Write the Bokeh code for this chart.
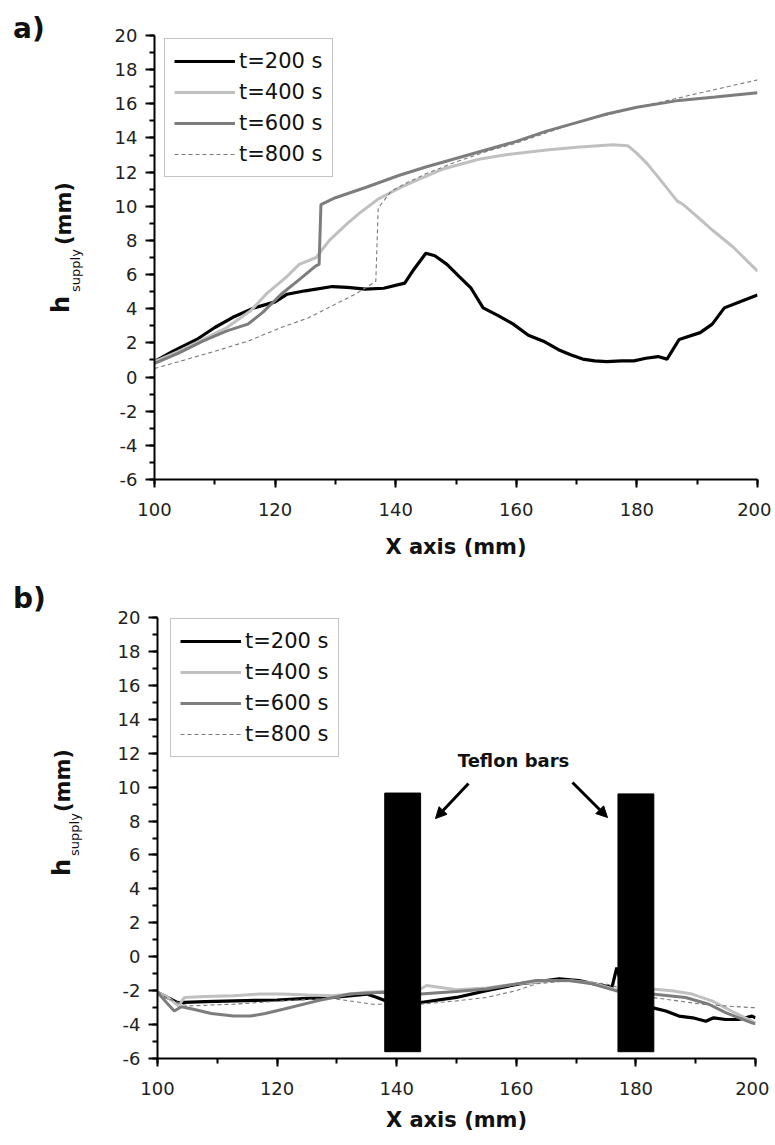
import math
from bokeh.plotting import figure
from bokeh.layouts import column, row
from bokeh.models import (Label, Arrow, NormalHead, SingleIntervalTicker, Legend, Div,
                          PrintfTickFormatter)
from bokeh.embed import file_html
from bokeh.resources import INLINE

# ---------------- data: panel a ----------------
a200_x = [100, 103, 107, 110, 113, 116.5, 120, 122, 125, 129.5, 132, 135, 138, 141.5, 143, 145,
          146.5, 148.5, 150.5, 152.5, 154.5, 157, 159.5, 162, 164.5, 167, 169, 171, 173, 175,
          177.5, 179.5, 181.5, 183.5, 185, 187, 190.5, 192.5, 194.5, 197, 200]
a200_y = [0.9, 1.5, 2.2, 2.9, 3.5, 4.05, 4.4, 4.85, 5.05, 5.3, 5.25, 5.15, 5.2, 5.5, 6.3, 7.25,
          7.1, 6.6, 5.9, 5.2, 4.05, 3.6, 3.1, 2.45, 2.1, 1.6, 1.3, 1.05, 0.95, 0.9,
          0.95, 0.95, 1.1, 1.2, 1.05, 2.2, 2.6, 3.1, 4.05, 4.4, 4.8]

a400_x = [100, 104, 108, 112, 116, 118.5, 122, 124, 126.8, 129, 132, 134, 137, 140.8, 144, 148,
          153.8, 158, 165, 170, 176, 178.5, 180, 181.7, 184, 186.7, 187.7, 190, 192.7, 196, 200]
a400_y = [0.9, 1.5, 2.2, 2.9, 3.9, 4.85, 5.9, 6.6, 7.0, 8.0, 9.0, 9.6, 10.4, 11.1, 11.6, 12.2,
          12.75, 13.0, 13.3, 13.45, 13.6, 13.55, 13.1, 12.5, 11.5, 10.3, 10.1, 9.4, 8.55, 7.6, 6.2]

a600_x = [100, 104, 108, 112, 115.5, 118, 121, 124, 126.7, 127.3, 127.6, 130, 135, 140.5, 145,
          152, 160, 165, 170, 175, 180, 187, 193, 200]
a600_y = [0.8, 1.4, 2.1, 2.7, 3.1, 3.8, 4.85, 5.7, 6.5, 6.6, 10.1, 10.5, 11.1, 11.8, 12.3,
          13.0, 13.8, 14.4, 14.9, 15.4, 15.8, 16.2, 16.4, 16.65]

a800_x = [100, 105, 109.9, 115.5, 121, 125.5, 130, 133.3, 136.7, 137.1, 139.3, 142, 145, 150,
          155, 160, 170, 180, 184, 190, 195, 200]
a800_y = [0.5, 1.0, 1.5, 2.1, 2.9, 3.46, 4.27, 4.85, 5.6, 9.9, 10.9, 11.4, 11.9, 12.6,
          13.2, 13.7, 14.9, 15.8, 16.1, 16.6, 17.0, 17.4]

# ---------------- data: panel b ----------------
b200_x = [100, 103.3, 108, 113, 120, 125, 129.4, 135, 136.7, 138.9, 144, 150, 155, 160.5, 164,
          167.2, 170.5, 173, 176, 176.8, 177.5, 182.7, 185, 187.2, 189.5, 191.7, 193, 195, 197.2,
          199.4, 200]
b200_y = [-2.1, -2.7, -2.65, -2.6, -2.55, -2.45, -2.4, -2.2, -2.4, -2.7, -2.7, -2.4, -2.0, -1.6,
          -1.45, -1.3, -1.4, -1.6, -1.8, -0.65, -1.5, -3.0, -3.2, -3.5, -3.6, -3.8, -3.6, -3.7,
          -3.7, -3.5, -3.6]

b400_x = [100, 101.7, 103.5, 104.5, 108, 112.7, 117, 121, 125, 129.4, 135, 138, 144, 145, 150,
          155, 160, 165, 168.8, 172.7, 176.6, 182.7, 186, 189.4, 192.7, 196, 199.4, 200]
b400_y = [-2.1, -2.4, -2.9, -2.4, -2.35, -2.3, -2.2, -2.2, -2.25, -2.3, -2.1, -2.05, -1.9, -1.7,
          -1.95, -1.85, -1.6, -1.45, -1.4, -1.55, -1.95, -1.9, -2.0, -2.2, -2.6, -3.2, -3.8, -3.9]

b600_x = [100, 101.5, 102.8, 104, 106, 109, 112.7, 115.5, 118, 121, 126.7, 132.2, 137.8, 144,
          150, 155, 160, 163.3, 168.8, 172.7, 176.6, 182.7, 188.3, 192.2, 195, 199.4, 200]
b600_y = [-2.1, -2.7, -3.2, -2.95, -3.1, -3.35, -3.5, -3.5, -3.35, -3.1, -2.6, -2.2, -2.1, -2.2,
          -2.05, -1.9, -1.6, -1.4, -1.4, -1.6, -2.0, -2.2, -2.4, -2.8, -3.3, -3.9, -3.95]

b800_x = [100, 102, 105, 112.7, 121, 129, 136, 138, 144, 150, 155, 160, 163.3, 168.8, 175,
          182.7, 187, 191, 195, 199.4, 200]
b800_y = [-2.1, -2.5, -2.9, -2.8, -2.6, -2.45, -2.8, -2.8, -2.8, -2.6, -2.4, -2.0, -1.6, -1.4,
          -1.6, -2.4, -2.6, -2.8, -2.9, -3.0, -3.0]

# Teflon bars (panel b)
bar_left = [138, 177]
bar_right = [144, 183]
bar_bottom = [-5.6, -5.6]
bar_top = [9.65, 9.6]

series_labels = ["t=200 s", "t=400 s", "t=600 s", "t=800 s"]

X_RANGE = (100, 200)
Y_RANGE = (-6, 20)

FONT = "DejaVu Sans"
TEXT_COLOR = "#111111"
STYLES = [
    dict(line_color="#000000", line_width=3.2),
    dict(line_color="#c0c0c0", line_width=3.0),
    dict(line_color="#7d7d7d", line_width=3.0),
    dict(line_color="#7a7a7a", line_width=1.1, line_dash="4 3"),
]

LABEL_W = 100   # width of the strip that holds the panel letter and the y title
RIGHT_BORDER = 14


def make_panel(frame_left_px, frame_right_px, frame_top_px, frame_bottom_px,
               fig_top_px, border_bottom, xlabel_standoff):
    fw = frame_right_px - frame_left_px
    fh = frame_bottom_px - frame_top_px
    p = figure(frame_width=fw, frame_height=fh,
               min_border_left=frame_left_px - LABEL_W, min_border_right=RIGHT_BORDER,
               min_border_top=frame_top_px - fig_top_px, min_border_bottom=border_bottom,
               x_range=X_RANGE, y_range=Y_RANGE,
               output_backend="svg", toolbar_location=None, tools="")
    p.grid.visible = False
    p.outline_line_color = None
    p.background_fill_color = "white"
    p.border_fill_color = "white"

    p.xaxis.ticker = SingleIntervalTicker(interval=20, num_minor_ticks=2)
    p.yaxis.ticker = SingleIntervalTicker(interval=2, num_minor_ticks=2)
    for ax in (p.xaxis, p.yaxis):
        ax.formatter = PrintfTickFormatter(format="%d")
        ax.axis_line_width = 2
        ax.axis_line_color = "black"
        ax.major_tick_line_width = 2
        ax.minor_tick_line_width = 2
        ax.major_tick_line_color = "black"
        ax.minor_tick_line_color = "black"
        ax.major_tick_in = 0
        ax.minor_tick_in = 0
        ax.major_label_text_font = FONT
        ax.major_label_text_font_size = "18px"
        ax.major_label_text_color = "#222222"
    p.xaxis.major_tick_out = 8
    p.xaxis.minor_tick_out = 5
    p.yaxis.major_tick_out = 9
    p.yaxis.minor_tick_out = 5
    p.xaxis.major_label_standoff = 15
    p.yaxis.major_label_standoff = 8
    p.xaxis.axis_label = "X axis (mm)"
    p.xaxis.axis_label_text_font = FONT
    p.xaxis.axis_label_text_font_style = "bold"
    p.xaxis.axis_label_text_font_size = "21px"
    p.xaxis.axis_label_text_color = TEXT_COLOR
    p.xaxis.axis_label_standoff = xlabel_standoff
    p.yaxis.axis_label = None

    total_h = (frame_top_px - fig_top_px) + fh + border_bottom

    def px2x(px):
        return X_RANGE[0] + (px - frame_left_px) * (X_RANGE[1] - X_RANGE[0]) / fw

    def py2y(py):
        return Y_RANGE[1] - (py - frame_top_px) * (Y_RANGE[1] - Y_RANGE[0]) / fh

    return p, px2x, py2y, total_h, fh


def add_series(p, xs_list, ys_list, legend_px, fh):
    renderers = []
    for xs, ys, st in zip(xs_list, ys_list, STYLES):
        r = p.line(xs, ys, **st)
        renderers.append(r)
    legend = Legend(items=[(lab, [r]) for lab, r in zip(series_labels, renderers)])
    legend.label_text_font = FONT
    legend.label_text_font_size = "21px"
    legend.label_text_color = TEXT_COLOR
    legend.glyph_width = 61
    legend.glyph_height = 26
    legend.label_height = 26
    legend.label_standoff = 4
    legend.spacing = 5
    legend.padding = 9
    legend.margin = 0
    legend.border_line_color = "#8a8a8a"
    legend.border_line_width = 1.5
    legend.background_fill_alpha = 1.0
    legend.background_fill_color = "white"
    lx, ly_top, lh = legend_px
    legend.location = (lx, fh - ly_top - lh)
    p.add_layout(legend)
    return renderers


def rotated(text_html, left, bottom, size, bold):
    weight = "bold" if bold else "normal"
    return (f'<div style="position:absolute;left:{left}px;top:{bottom}px;'
            f'transform-origin:0 0;transform:rotate(-90deg);white-space:nowrap;'
            f'font-size:{size}px;line-height:{size}px;font-weight:{weight};">'
            f'{text_html}</div>')


def make_label_strip(height, fig_top_px, letter, letter_pos, h_pos, sub_pos, mm_pos):
    """An HTML strip left of the axis with the panel letter and the y title h_supply (mm)."""
    lx, ly = letter_pos
    parts = [
        f'<div style="position:absolute;left:{lx}px;top:{ly - fig_top_px}px;'
        f'font-size:28px;line-height:28px;font-weight:bold;">{letter}</div>',
        rotated("h", h_pos[0] - 12, h_pos[1] - fig_top_px, 24, True),
        rotated("supply", sub_pos[0] - 6.5, sub_pos[1] - fig_top_px, 13, False),
        rotated("(mm)", mm_pos[0] - 10.5, mm_pos[1] - fig_top_px, 21, True),
    ]
    html = (f'<div style="position:relative;width:{LABEL_W}px;height:{height}px;'
            f'font-family:\'{FONT}\';color:{TEXT_COLOR};margin:0;padding:0;">'
            + "".join(parts) + '</div>')
    return Div(text=html, width=LABEL_W, height=height, margin=0)


# ---------------- panel a ----------------
A_TOP = 0
pa, ax_a, ay_a, ha, fha = make_panel(154, 757, 35, 479, A_TOP, 85, 16)
add_series(pa, [a200_x, a400_x, a600_x, a800_x], [a200_y, a400_y, a600_y, a800_y],
           (10, 1, 141), fha)
sa = make_label_strip(ha, A_TOP, "a)", (13, 15), (61, 313), (75, 292), (64, 245))

# ---------------- panel b ----------------
B_TOP = A_TOP + ha
pb, ax_b, ay_b, hb, fhb = make_panel(157, 755, 617, 1058, B_TOP, 80, 10)
add_series(pb, [b200_x, b400_x, b600_x, b800_x], [b200_y, b400_y, b600_y, b800_y],
           (13, 1, 139), fhb)
pb.quad(left=bar_left, right=bar_right, bottom=bar_bottom, top=bar_top,
        fill_color="black", line_color="black")
sb = make_label_strip(hb, B_TOP, "b)", (13, 585), (62, 876), (74, 856), (63, 812))

pb.add_layout(Label(x=ax_b(513), y=ay_b(760), text="Teflon bars", text_font=FONT,
                    text_font_style="bold", text_font_size="18px",
                    text_align="center", text_baseline="middle", text_color=TEXT_COLOR))
for (sx, sy, ex, ey) in [(468, 783, 435, 818), (572, 782, 607, 817)]:
    pb.add_layout(Arrow(x_start=ax_b(sx), y_start=ay_b(sy), x_end=ax_b(ex), y_end=ay_b(ey),
                        line_width=3, line_color="black",
                        end=NormalHead(size=11, fill_color="black", line_color="black")))

layout = column(row(sa, pa, spacing=0), row(sb, pb, spacing=0), spacing=0)
open("out.html", "w").write(file_html(layout, INLINE))
